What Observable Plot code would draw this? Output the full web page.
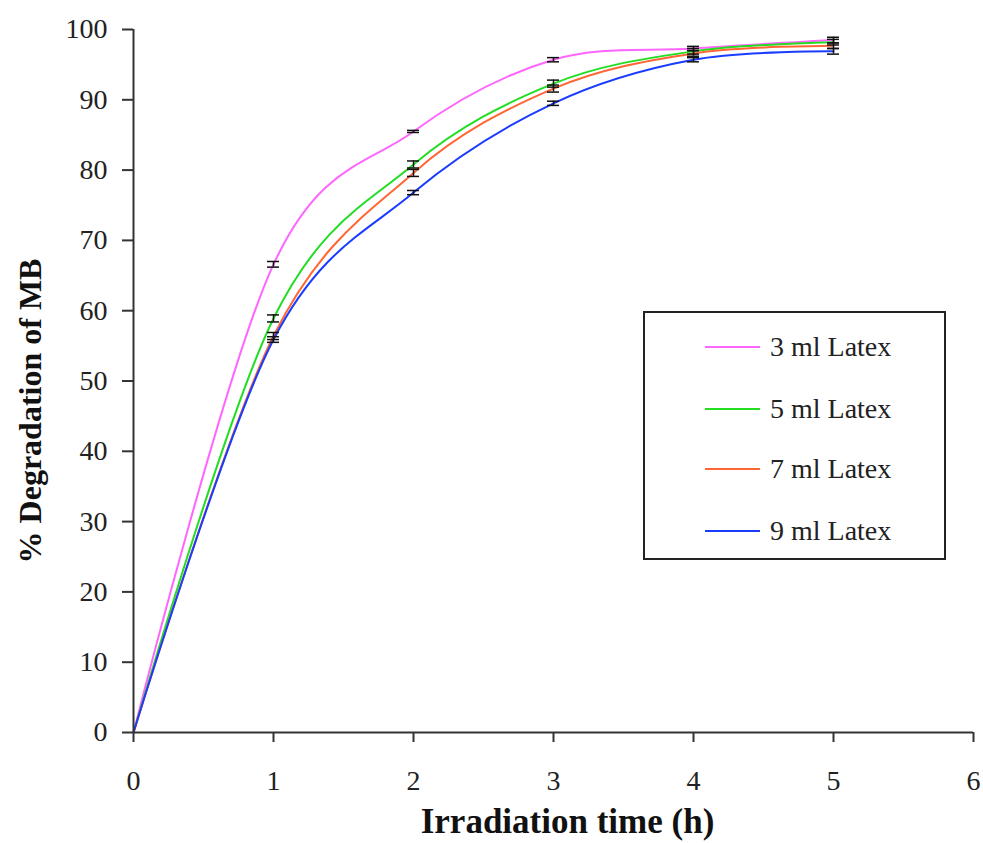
<!DOCTYPE html>
<html>
<head>
<meta charset="utf-8">
<script src="https://cdn.jsdelivr.net/npm/d3@7"></script>
<script src="https://cdn.jsdelivr.net/npm/@observablehq/plot@0.6"></script>
<style>
  html, body { margin: 0; padding: 0; background: #fff; }
  #wrap { position: relative; width: 983px; height: 843px; font-family: "Liberation Serif", "Times New Roman", serif; }
  #legend { position: absolute; left: 643px; top: 311px; width: 299px; height: 245px; border: 2px solid #222; background: #fff; box-sizing: content-box; }
  #legend .row { position: absolute; left: 60px; height: 30px; display: flex; align-items: center; font-size: 28px; color: #222; }
  #legend .sw { width: 55px; height: 2px; margin-right: 10px; }
</style>
</head>
<body>
<div id="wrap"></div>
<script>
const times = [0, 1, 2, 3, 4, 5];
const seriesNames = ["3 ml Latex", "5 ml Latex", "7 ml Latex", "9 ml Latex"];
const colors = ["#ff66ff", "#22dd22", "#ff6633", "#1a3cff"];
const deg3 = [0, 66.6, 85.5, 95.7, 97.3, 98.5];
const deg5 = [0, 58.9, 80.8, 92.3, 96.9, 98.2];
const deg7 = [0, 56.4, 79.6, 91.6, 96.6, 97.7];
const deg9 = [0, 55.9, 76.8, 89.5, 95.7, 96.9];
const err3 = [0, 0.4, 0.15, 0.3, 0.3, 0.4];
const err5 = [0, 0.5, 0.5, 0.5, 0.4, 0.4];
const err7 = [0, 0.5, 0.5, 0.5, 0.4, 0.4];
const err9 = [0, 0.4, 0.3, 0.3, 0.3, 0.4];
const xTicks = [0, 1, 2, 3, 4, 5, 6];
const yTicks = [0, 10, 20, 30, 40, 50, 60, 70, 80, 90, 100];

const allVals = [deg3, deg5, deg7, deg9];
const allErr = [err3, err5, err7, err9];
const data = [];
seriesNames.forEach((s, i) => {
  times.forEach((t, j) => {
    data.push({series: s, x: t, y: allVals[i][j], lo: allVals[i][j] - allErr[i][j], hi: allVals[i][j] + allErr[i][j]});
  });
});
const errData = data.filter(d => d.x > 0);

const chart = Plot.plot({
  width: 983,
  height: 843,
  marginLeft: 133,
  marginRight: 10,
  marginTop: 29,
  marginBottom: 111,
  style: {fontFamily: "Liberation Serif, Times New Roman, serif", fontSize: "28px", color: "#222", background: "#fff", overflow: "visible"},
  x: {domain: [0, 6], ticks: xTicks, tickSize: 10, tickPadding: 28, label: null},
  y: {domain: [0, 100], ticks: yTicks, tickSize: 11, tickPadding: 15, label: null},
  color: {domain: seriesNames, range: colors},
  marks: [
    Plot.line(data, {x: "x", y: "y", z: "series", stroke: "series", strokeWidth: 2, curve: "cardinal"}),
    Plot.ruleX(errData, {x: "x", y1: "lo", y2: "hi", stroke: "#111", strokeWidth: 1.5}),
    Plot.ruleY(errData, {y: "lo", x1: "x", x2: "x", insetLeft: -6, insetRight: -6, stroke: "#111", strokeWidth: 1.5}),
    Plot.ruleY(errData, {y: "hi", x1: "x", x2: "x", insetLeft: -6, insetRight: -6, stroke: "#111", strokeWidth: 1.5}),
    Plot.ruleX([0], {stroke: "#333", strokeWidth: 2}),
    Plot.ruleY([0], {stroke: "#333", strokeWidth: 2}),
    Plot.axisX({ticks: xTicks, tickFormat: d3.format("d"), tickSize: 10, tickPadding: 28, stroke: "#333", strokeWidth: 2, fill: "#222", label: null}),
    Plot.axisY({ticks: yTicks, tickFormat: d3.format("d"), tickSize: 11, tickPadding: 15, stroke: "#333", strokeWidth: 2, fill: "#222", label: null}),
    Plot.text(["Irradiation time (h)"], {frameAnchor: "bottom", text: d => d, dy: 89, dx: 14, textAnchor: "middle", lineAnchor: "middle", fontWeight: "bold", fontSize: 35, fill: "#111"}),
    Plot.text(["% Degradation of MB"], {frameAnchor: "left", text: d => d, rotate: -90, dx: -103, dy: 30, textAnchor: "middle", lineAnchor: "middle", fontWeight: "bold", fontSize: 32, fill: "#111"})
  ]
});

const wrap = document.getElementById("wrap");
wrap.appendChild(chart);

const legend = document.createElement("div");
legend.id = "legend";
const rowTops = [19, 81, 141, 203];
seriesNames.forEach((s, i) => {
  const row = document.createElement("div");
  row.className = "row";
  row.style.top = rowTops[i] + "px";
  const sw = document.createElement("div");
  sw.className = "sw";
  sw.style.background = colors[i];
  const lab = document.createElement("span");
  lab.textContent = s;
  row.appendChild(sw);
  row.appendChild(lab);
  legend.appendChild(row);
});
wrap.appendChild(legend);
</script>
</body>
</html>
